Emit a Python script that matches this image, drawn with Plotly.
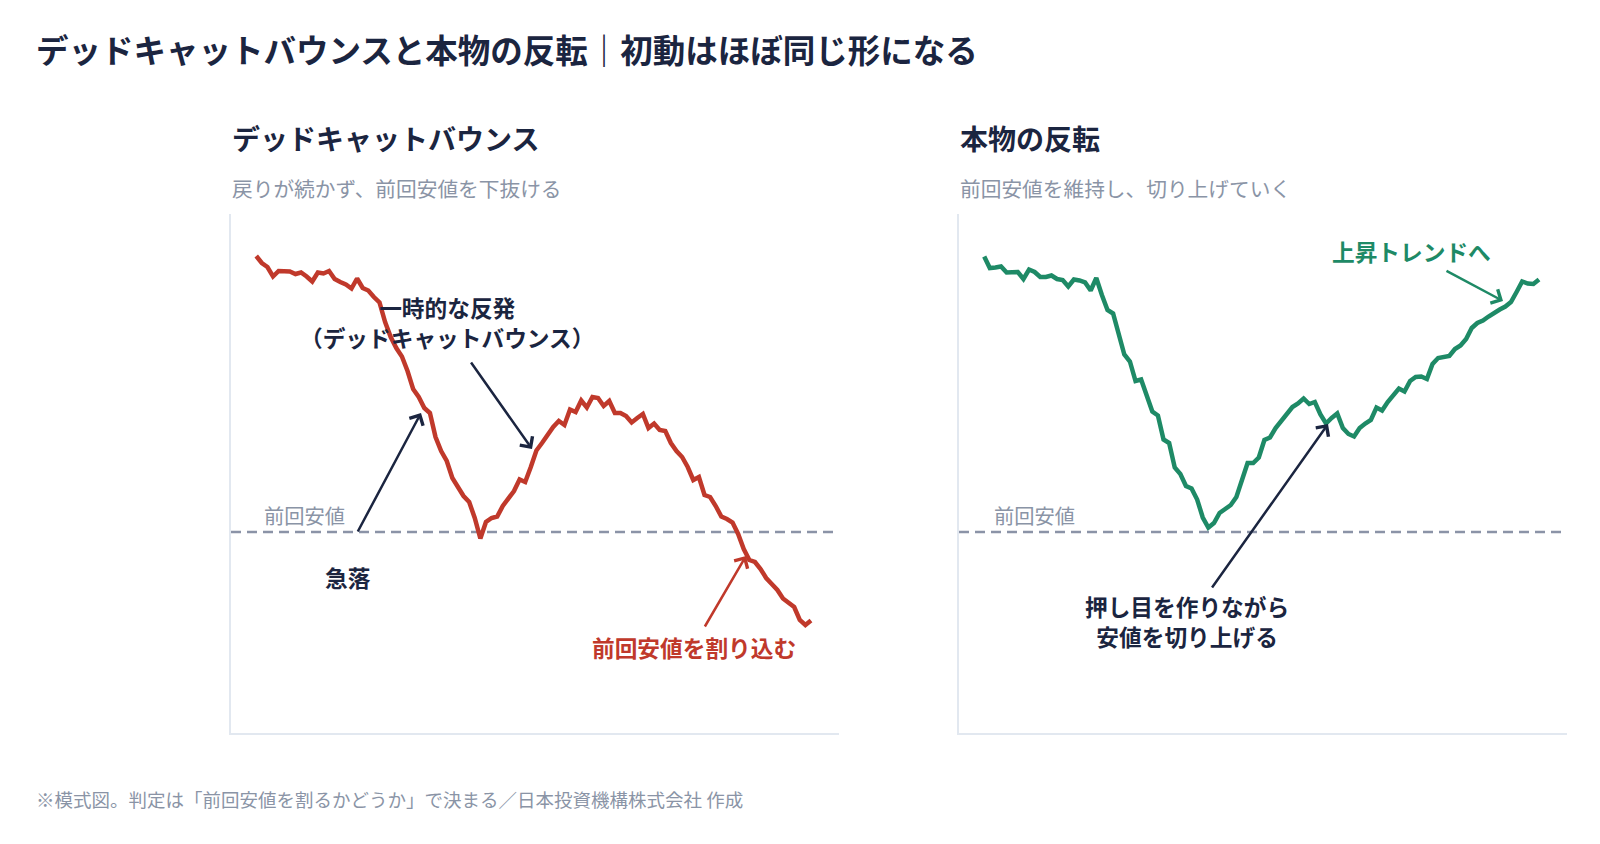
import plotly.graph_objects as go

W, H = 1600, 844

# ---- data (price index; previous low = 100) ----
prev_low = 100
dead_cat = [155.2, 153.8, 153.0, 151.1, 152.2, 152.1, 152.1, 151.6, 151.9, 151.1,
            150.1, 151.9, 151.7, 152.2, 150.6, 150.0, 149.5, 148.7, 150.7, 148.8,
            148.3, 147.0, 145.9, 142.0, 139.0, 136.8, 135.1, 132.2, 128.6, 127.0,
            124.8, 123.8, 119.0, 116.2, 114.2, 110.8, 109.0, 107.2, 106.0, 102.8,
            98.7, 102.0, 102.8, 103.1, 105.2, 106.7, 108.2, 110.5, 110.0, 113.0,
            116.3, 117.8, 119.4, 121.0, 122.2, 121.4, 124.5, 124.0, 126.3, 124.9,
            127.0, 126.8, 125.2, 126.2, 123.8, 123.8, 123.2, 121.9, 122.8, 123.6,
            120.8, 121.7, 120.4, 120.2, 117.8, 116.2, 115.0, 113.0, 110.4, 111.0,
            107.4, 107.0, 105.2, 103.1, 102.6, 101.9, 99.6, 96.6, 94.4, 94.0,
            92.6, 90.8, 89.6, 88.4, 86.7, 85.8, 85.0, 82.4, 81.4, 82.3]
reversal = [155.1, 152.8, 152.9, 153.1, 151.9, 152.0, 152.0, 150.6, 152.5, 152.0,
            151.0, 151.0, 151.3, 150.6, 150.4, 149.1, 150.5, 150.3, 149.9, 148.3,
            150.8, 147.4, 144.4, 143.7, 139.2, 135.5, 134.1, 130.2, 130.5, 127.1,
            124.1, 123.3, 118.5, 117.8, 112.9, 111.6, 109.2, 108.7, 106.5, 102.9,
            100.9, 101.8, 103.8, 104.6, 105.4, 107.0, 110.2, 113.8, 113.8, 114.9,
            118.4, 118.9, 120.8, 122.3, 123.8, 125.0, 125.7, 126.7, 125.6, 126.0,
            123.5, 121.7, 122.8, 123.7, 120.8, 119.6, 119.1, 120.8, 121.7, 122.4,
            124.9, 124.3, 126.0, 127.5, 128.7, 128.1, 130.2, 131.0, 131.1, 130.6,
            133.6, 134.8, 134.9, 135.2, 136.6, 137.3, 138.6, 140.8, 141.8, 142.3,
            143.1, 143.9, 144.5, 145.1, 146.0, 148.0, 150.1, 149.7, 149.6, 150.5]
steps = list(range(len(dead_cat)))

title = "デッドキャットバウンスと本物の反転｜初動はほぼ同じ形になる"
panel_titles = ["デッドキャットバウンス", "本物の反転"]
panel_subtitles = ["戻りが続かず、前回安値を下抜ける", "前回安値を維持し、切り上げていく"]
low_label = "前回安値"
footer = "※模式図。判定は「前回安値を割るかどうか」で決まる／日本投資機構株式会社 作成"

RED = "#c0392b"
GREEN = "#1e8a66"
NAVY = "#1b2540"
GRAY = "#8a94a6"
DASH = "#8b93a7"
AXIS = "#e2e8f0"
FONT = "Noto Sans CJK JP"


def px(x):
    return x / W


def py(y):
    return 1 - y / H


fig = go.Figure()
fig.add_trace(go.Scatter(x=steps, y=dead_cat, mode="lines", xaxis="x", yaxis="y",
                         line=dict(color=RED, width=4.5), hoverinfo="skip"))
fig.add_trace(go.Scatter(x=steps, y=reversal, mode="lines", xaxis="x2", yaxis="y2",
                         line=dict(color=GREEN, width=4.5), hoverinfo="skip"))

ydom = [py(733), py(214)]
xr = [-4.5, 104]
yr = [59.8, 163.6]
common_x = dict(range=xr, showgrid=False, zeroline=False, showticklabels=False,
                ticks="", showline=True, linecolor=AXIS, linewidth=2)
common_y = dict(range=yr, showgrid=False, zeroline=False, showticklabels=False,
                ticks="", showline=True, linecolor=AXIS, linewidth=2)
fig.update_layout(
    width=W, height=H,
    margin=dict(l=0, r=0, t=0, b=0),
    paper_bgcolor="white", plot_bgcolor="white",
    showlegend=False,
    font=dict(family=FONT, color=NAVY),
    xaxis=dict(domain=[px(231), px(839)], anchor="y", **common_x),
    yaxis=dict(domain=ydom, anchor="x", **common_y),
    xaxis2=dict(domain=[px(959), px(1567)], anchor="y2", **common_x),
    yaxis2=dict(domain=ydom, anchor="x2", **common_y),
)

for xa, ya in (("x", "y"), ("x2", "y2")):
    fig.add_shape(type="line", xref=f"{xa} domain", yref=ya, x0=0, x1=1,
                  y0=prev_low, y1=prev_low, layer="below",
                  line=dict(color=DASH, width=2.4, dash="10px,6px"))

ann = []


def text(x, y, s, size, color=NAVY, bold=False, xanchor="left"):
    ann.append(dict(x=px(x), y=py(y), xref="paper", yref="paper", text=f"<b>{s}</b>" if bold else s,
                    showarrow=False, xanchor=xanchor, yanchor="middle", align="center",
                    font=dict(size=size, color=color, family=FONT)))


def arrow(tail, tip, color=NAVY):
    ann.append(dict(x=px(tip[0]), y=py(tip[1]), xref="paper", yref="paper", text="",
                    showarrow=True, ax=tail[0] - tip[0], ay=tail[1] - tip[1],
                    axref="pixel", ayref="pixel",
                    arrowhead=4, arrowsize=1.2, arrowwidth=2.5, arrowcolor=color, standoff=0))


text(34, 48, title, 32.5, bold=True)
text(230, 138, panel_titles[0], 28, bold=True)
text(958, 138, panel_titles[1], 28, bold=True)
text(230, 188, panel_subtitles[0], 20.7, color=GRAY)
text(958, 188, panel_subtitles[1], 20.7, color=GRAY)
text(262, 515, low_label, 20.3, color=GRAY)
text(992, 515, low_label, 20.3, color=GRAY)
text(34, 799, footer, 18.5, color=GRAY)

text(446.5, 322, "一時的な反発<br>（デッドキャットバウンス）", 22.7, bold=True, xanchor="center")
arrow((470, 361), (532, 449))
text(348, 577, "急落", 22.7, bold=True, xanchor="center")
arrow((357, 533), (421, 413))
text(694, 647, "前回安値を割り込む", 22.7, color=RED, bold=True, xanchor="center")
arrow((704, 628), (746, 556), color=RED)

text(1411, 251, "上昇トレンドへ", 22.7, color=GREEN, bold=True, xanchor="center")
arrow((1445, 270), (1503, 301), color=GREEN)
text(1187, 621, "押し目を作りながら<br>安値を切り上げる", 22.7, bold=True, xanchor="center")
arrow((1211, 589), (1328, 424))

fig.update_layout(annotations=ann)
fig.write_html("out.html")
